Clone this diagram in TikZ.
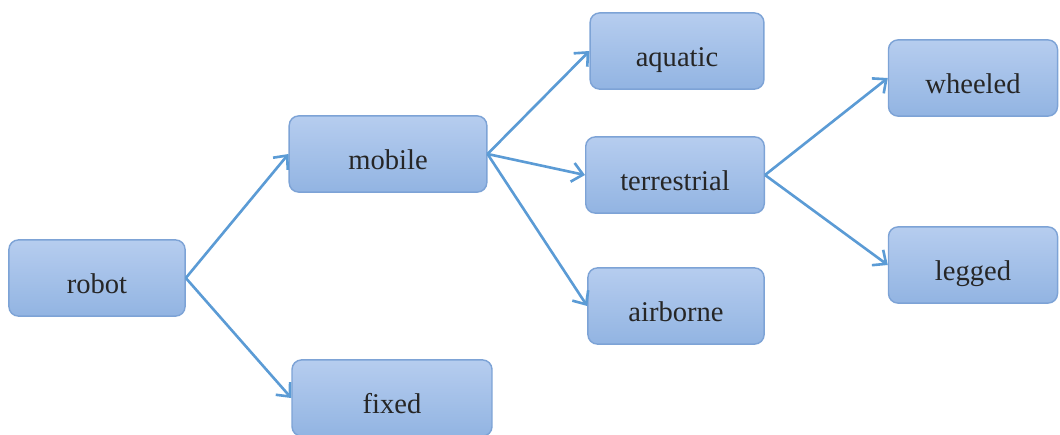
\documentclass[tikz,border=0pt]{standalone}
\usepackage{fontspec}
\setmainfont{Liberation Serif}
\usetikzlibrary{arrows.meta, positioning}

\definecolor{boxtop}{RGB}{182,205,239}
\definecolor{boxbot}{RGB}{146,180,226}
\definecolor{boxline}{RGB}{125,163,214}
\definecolor{arrowblue}{RGB}{91,155,213}

\begin{document}
\begin{tikzpicture}[x=0.42pt, y=-0.42pt, thick,
    box/.style={rectangle, rounded corners=4pt, draw=boxline, line width=0.6pt,
        top color=boxtop, bottom color=boxbot, minimum height=32pt,
        text height=13pt, text depth=0pt,
        font=\fontsize{12}{14}\selectfont, text=black!85},
    link/.style={arrowblue, line width=1.1pt, -{Straight Barb[length=4.5pt, width=8pt]}}]
        \useasboundingbox (0,0) rectangle (1060,434);

        % Nodes
        \node (Robot) [box, minimum width=74pt] at (97,278) {robot};
        \node (Mobile) [box, minimum width=83pt] at (388,154) {mobile};
        \node (Fixed) [box, minimum width=84pt] at (392,398) {fixed};
        \node (Aquatic) [box, minimum width=73pt] at (677,51) {aquatic};
        \node (Terrestrial) [box, minimum width=75pt] at (675,175) {terrestrial};
        \node (Airborne) [box, minimum width=74pt] at (676,306) {airborne};
        \node (Wheeled) [box, minimum width=71pt] at (973,78) {wheeled};
        \node (Legged) [box, minimum width=71pt] at (973,265) {legged};

        % Links
        \draw[link] (Robot.east) -- (Mobile.west);
        \draw[link] (Robot.east) -- (Fixed.west);
        \draw[link] (Mobile.east) -- (Aquatic.west);
        \draw[link] (Mobile.east) -- (Terrestrial.west);
        \draw[link] (Mobile.east) -- (Airborne.west);
        \draw[link] (Terrestrial.east) -- (Wheeled.west);
        \draw[link] (Terrestrial.east) -- (Legged.west);
    \end{tikzpicture}
\end{document}
